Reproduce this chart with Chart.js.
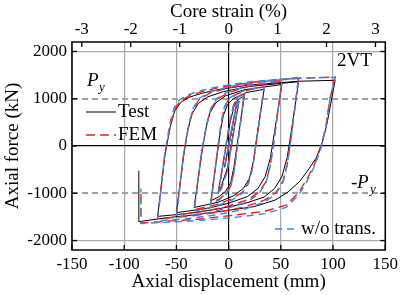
<!DOCTYPE html>
<html><head><meta charset="utf-8">
<script src="https://cdn.jsdelivr.net/npm/chart.js@4.4.1/dist/chart.umd.min.js"></script>
<style>html,body{margin:0;padding:0;background:#fff;}canvas{display:block;}</style>
</head><body>
<canvas id="c" width="402" height="295"></canvas>
<script>
const X_TICKS = [-150, -100, -50, 0, 50, 100, 150];
const Y_TICKS = [-2000, -1000, 0, 1000, 2000];
const STRAIN_TICKS = [-3, -2, -1, 0, 1, 2, 3];
const PY = 1000;

// [displacement (mm), axial force (kN)]
const testCurve = [[0,0],[4,440],[-4,-450],[0,0],[7,800],[10,950],[3,100],[-1,-450],[-7,-850],[-10,-980],[-3,-80],[1,450],[5,830],[9,980],[15,1060],
[10,300],[8,0],[5,-450],[2,-780],[-3,-960],[-9,-1070],[-17,-1160],
[-11,-200],[-8,300],[-5,650],[-1,880],[5,1010],[17,1130],[34,1200],
[27,200],[24,-300],[20,-680],[14,-900],[5,-1050],[-10,-1190],[-33,-1300],
[-26,-200],[-22,350],[-18,700],[-12,920],[-3,1060],[15,1190],[51,1300],
[44,300],[40,-250],[35,-650],[28,-900],[18,-1070],[0,-1210],[-20,-1320],[-50,-1410],
[-43,-200],[-39,350],[-35,680],[-29,900],[-20,1040],[-5,1150],[20,1260],[67,1360],
[60,300],[56,-250],[51,-650],[44,-900],[34,-1080],[15,-1220],[-10,-1330],[-40,-1430],[-68,-1490],
[-61,-200],[-56,400],[-52,720],[-46,920],[-38,1030],[-25,1120],[-8,1200],[20,1290],[67,1370],[102,1390],
[97,800],[94,450],[90,100],[84,-250],[77,-480],[68,-750],[57,-970],[45,-1140],[25,-1280],[0,-1360],[-30,-1450],[-60,-1520],[-86,-1600],[-86,-520]];

const femCurve = [[0,0],[4,470],[-4,-470],[0,0],[7,830],[10,990],[3,50],[-1,-500],[-7,-900],[-10,-1020],[-3,-50],[1,500],[5,880],[9,1030],[15,1100],
[9,100],[5,-550],[2,-850],[-3,-1020],[-9,-1120],[-17,-1210],
[-11,-150],[-7,500],[-4,820],[0,980],[8,1100],[20,1190],[34,1250],
[27,150],[23,-450],[19,-780],[13,-980],[3,-1120],[-12,-1240],[-33,-1350],
[-26,-150],[-21,450],[-17,780],[-11,990],[-1,1120],[20,1270],[51,1370],
[44,200],[40,-400],[36,-750],[29,-980],[18,-1140],[0,-1270],[-20,-1370],[-50,-1460],
[-43,-150],[-38,450],[-34,780],[-28,990],[-17,1130],[0,1230],[25,1340],[67,1440],
[60,200],[56,-400],[52,-750],[45,-990],[34,-1150],[15,-1290],[-10,-1400],[-40,-1490],[-68,-1540],
[-61,-150],[-55,500],[-51,800],[-46,960],[-37,1070],[-24,1160],[-8,1240],[20,1340],[67,1430],[102,1460],
[97,1000],[93,400],[88,-50],[82,-400],[75,-700],[67,-990],[55,-1250],[35,-1380],[10,-1450],[-30,-1550],[-84,-1630],[-84,-930]];

const woCurve = [[0,0],[4,480],[-4,-480],[0,0],[7,840],[10,1000],[3,40],[-1,-510],[-7,-910],[-10,-1030],[-3,-40],[1,510],[5,890],[9,1040],[15,1110],
[9,90],[5,-560],[2,-870],[-3,-1040],[-9,-1140],[-17,-1230],
[-11,-140],[-7,510],[-4,830],[0,1000],[8,1120],[20,1200],[34,1260],
[27,140],[23,-460],[19,-800],[13,-1000],[3,-1150],[-12,-1270],[-33,-1380],
[-26,-140],[-21,460],[-17,800],[-11,1010],[-1,1140],[20,1290],[51,1380],
[44,190],[40,-410],[36,-770],[29,-1010],[18,-1180],[0,-1310],[-20,-1410],[-50,-1500],
[-43,-140],[-38,470],[-34,800],[-28,1010],[-17,1150],[0,1250],[25,1360],[67,1450],
[60,190],[56,-410],[52,-770],[45,-1020],[34,-1190],[15,-1340],[-10,-1450],[-40,-1540],[-68,-1580],
[-61,-140],[-56,510],[-52,820],[-47,980],[-38,1090],[-25,1180],[-9,1260],[20,1360],[67,1440],[102,1450],
[97,990],[93,380],[88,-80],[82,-440],[75,-750],[67,-1040],[55,-1300],[35,-1430],[10,-1500],[-30,-1580],[-84,-1640],[-84,-900]];

const toPts = arr => arr.map(p => ({x: p[0], y: p[1]}));

const SERIF = '"Liberation Serif", "Times New Roman", serif';
const RED = '#ff1a1a';
const BLUE = '#2f8ae8';
const GRID = '#a8a8a8';

const deco = {
  id: 'deco',
  beforeDatasetsDraw(chart) {
    const {ctx, chartArea: a, scales: {y}} = chart;
    ctx.save();
    ctx.strokeStyle = '#a0a0a0';
    ctx.lineWidth = 2;
    ctx.setLineDash([6, 4]);
    [PY, -PY].forEach(v => {
      const py = Math.round(y.getPixelForValue(v));
      ctx.beginPath(); ctx.moveTo(a.left, py); ctx.lineTo(a.right, py); ctx.stroke();
    });
    ctx.restore();
  },
  afterDatasetsDraw(chart) {
    const {ctx, chartArea: a, scales: {x, y, x2}} = chart;
    ctx.save();
    ctx.strokeStyle = '#000';
    ctx.lineWidth = 1.5;
    ctx.strokeRect(a.left, a.top, a.right - a.left, a.bottom - a.top);
    ctx.lineWidth = 1.3;
    const L = 5;
    x.ticks.forEach(t => { const px = x.getPixelForValue(t.value); ctx.beginPath(); ctx.moveTo(px, a.bottom); ctx.lineTo(px, a.bottom - L); ctx.stroke(); });
    x2.ticks.forEach(t => { const px = x2.getPixelForValue(t.value); ctx.beginPath(); ctx.moveTo(px, a.top); ctx.lineTo(px, a.top + L); ctx.stroke(); });
    y.ticks.forEach(t => { const py = y.getPixelForValue(t.value);
      ctx.beginPath(); ctx.moveTo(a.left, py); ctx.lineTo(a.left + L, py); ctx.stroke();
      ctx.beginPath(); ctx.moveTo(a.right, py); ctx.lineTo(a.right - L, py); ctx.stroke(); });

    const ds = chart.data.datasets;
    const leg = (d, x0, x1, yy) => {
      ctx.strokeStyle = d.borderColor; ctx.lineWidth = d.borderWidth;
      ctx.setLineDash(d.borderDash || []);
      ctx.beginPath(); ctx.moveTo(x0, yy); ctx.lineTo(x1, yy); ctx.stroke();
      ctx.setLineDash([]);
    };
    ctx.fillStyle = '#000';
    ctx.textBaseline = 'middle';
    ctx.font = '19px ' + SERIF;
    leg(ds[2], a.left + 14, a.left + 44, 112);
    ctx.fillText('Test', a.left + 46, 112);
    leg(ds[1], a.left + 14, a.left + 44, 135);
    ctx.fillText('FEM', a.left + 46, 135);
    leg(ds[0], a.left + 203, a.left + 225, 229);
    ctx.fillText('w/o trans.', a.left + 229, 229);
    ctx.fillText('2VT', a.left + 265, 61);
    ctx.font = 'italic 19px ' + SERIF;
    ctx.fillText('P', a.left + 15, 81);
    ctx.font = 'italic 13px ' + SERIF;
    ctx.fillText('y', a.left + 27, 88);
    ctx.font = '19px ' + SERIF;
    ctx.fillText('-', a.left + 279, 183);
    ctx.font = 'italic 19px ' + SERIF;
    ctx.fillText('P', a.left + 285, 183);
    ctx.font = 'italic 13px ' + SERIF;
    ctx.fillText('y', a.left + 298, 190);
    ctx.restore();
  }
};

const lineDs = (label, pts, color, width, dash) => ({
  label, data: pts, showLine: true, borderColor: color, backgroundColor: color,
  borderWidth: width, borderDash: dash, pointRadius: 0, tension: 0, fill: false
});

const plain = v => String(v);

new Chart(document.getElementById('c'), {
  type: 'scatter',
  data: {
    datasets: [
      lineDs('w/o trans.', toPts(woCurve), BLUE, 1.4, [7, 5]),
      lineDs('FEM', toPts(femCurve), RED, 1.4, [9, 5]),
      lineDs('Test', toPts(testCurve), '#000', 1, [])
    ]
  },
  options: {
    responsive: false, animation: false, devicePixelRatio: 1,
    layout: {padding: {left: 0, right: 15, top: 0, bottom: 0}},
    plugins: {legend: {display: false}, tooltip: {enabled: false}},
    scales: {
      x: {
        type: 'linear', position: 'bottom', min: -150, max: 150,
        afterBuildTicks: s => { s.ticks = X_TICKS.map(v => ({value: v})); },
        afterFit: s => { s.height = 45; },
        grid: {drawTicks: false, lineWidth: 1.2,
          color: c => c.tick && c.tick.value === 0 ? '#000' : GRID},
        border: {display: false},
        ticks: {padding: 4, color: '#000', font: {family: SERIF, size: 17}, maxRotation: 0, callback: plain},
        title: {display: true, text: 'Axial displacement (mm)', color: '#000',
          font: {family: SERIF, size: 19}, padding: {top: 2, bottom: 2}}
      },
      x2: {
        type: 'linear', position: 'top', min: -3.2, max: 3.2,
        afterBuildTicks: s => { s.ticks = STRAIN_TICKS.map(v => ({value: v})); },
        afterFit: s => { s.height = 42; },
        grid: {display: false, drawTicks: false},
        border: {display: false},
        ticks: {padding: 2, color: '#000', font: {family: SERIF, size: 17}, maxRotation: 0, callback: plain},
        title: {display: true, text: 'Core strain (%)', color: '#000',
          font: {family: SERIF, size: 19}, padding: {top: 1, bottom: 1}}
      },
      y: {
        type: 'linear', position: 'left', min: -2200, max: 2200,
        afterBuildTicks: s => { s.ticks = Y_TICKS.map(v => ({value: v})); },
        afterFit: s => { s.width = 72; },
        grid: {drawTicks: false, lineWidth: 1.2,
          color: c => {
            const v = c.tick ? c.tick.value : null;
            if (v === 0) return '#000';
            if (v === PY || v === -PY) return 'rgba(0,0,0,0)';
            return GRID;
          }},
        border: {display: false},
        ticks: {padding: 5, color: '#000', font: {family: SERIF, size: 17}, callback: plain},
        title: {display: true, text: 'Axial force (kN)', color: '#000',
          font: {family: SERIF, size: 19}, padding: {top: 2, bottom: 2}}
      }
    }
  },
  plugins: [deco]
});
</script>
</body></html>
